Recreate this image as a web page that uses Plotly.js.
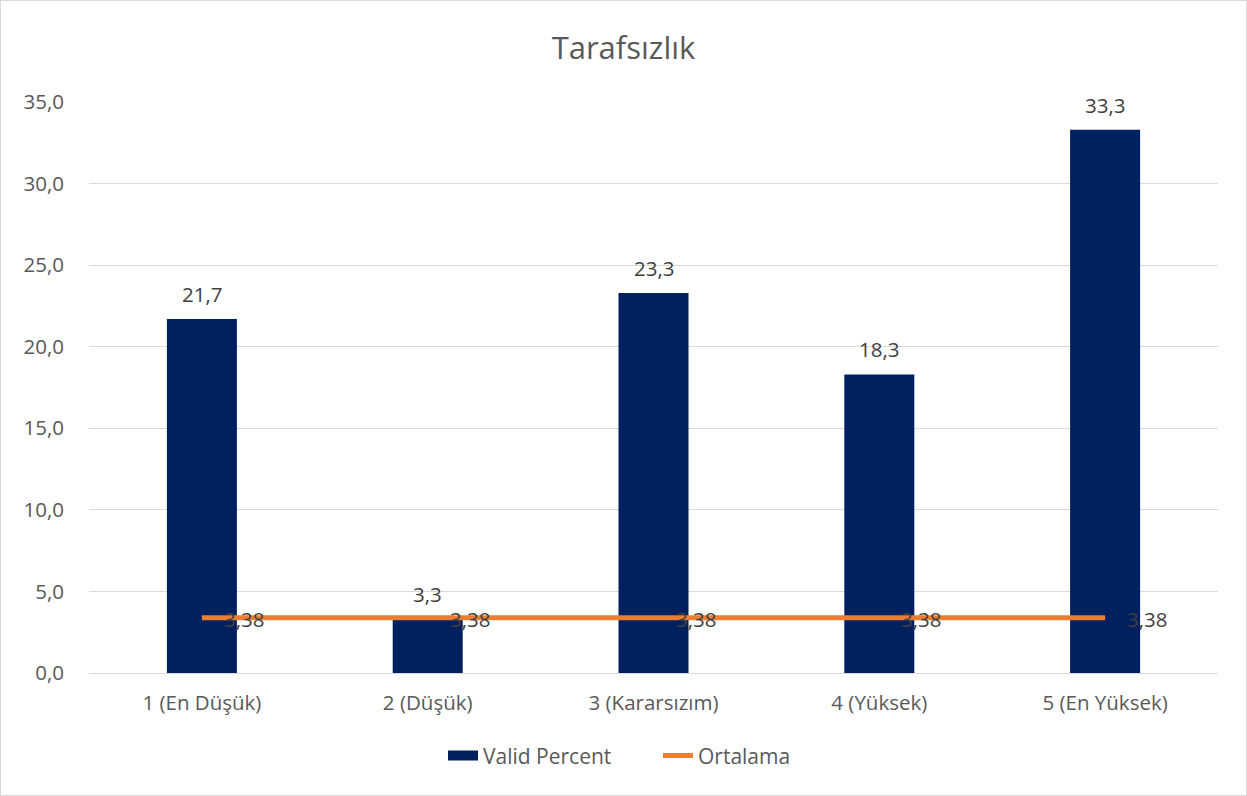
<!DOCTYPE html>
<html><head><meta charset="utf-8">
<script src="https://cdn.plot.ly/plotly-3.0.1.min.js"></script>
<style>html,body{margin:0;padding:0;background:#fff}#c{position:absolute;left:0;top:0;width:1245px;height:794px;border:1px solid #d9d9d9}</style>
</head><body><div id="c"></div>
<script>
const categories = ["1 (En Düşük)", "2 (Düşük)", "3 (Kararsızım)", "4 (Yüksek)", "5 (En Yüksek)"];
const validPercent = [21.7, 3.3, 23.3, 18.3, 33.3];
const ortalama = [3.38, 3.38, 3.38, 3.38, 3.38];
const yTicks = [0, 5, 10, 15, 20, 25, 30, 35];

const font = "'Open Sans', 'Noto Sans', sans-serif";
const fs = 20.5;
const fmt = (v, d) => v.toFixed(d).replace(".", ",");
const data = [
  {type:"bar", name:"Valid Percent", x:categories, y:validPercent,
   marker:{color:"#002060"}, width:0.31, showlegend:false, legendgroup:"vp"},
  {type:"scatter", mode:"lines", name:"Valid Percent", x:[null], y:[null],
   line:{color:"#002060", width:10}, legendgroup:"vp", hoverinfo:"skip"},
  {type:"scatter", mode:"lines", name:"Ortalama", x:categories, y:ortalama,
   line:{color:"#ED7D31", width:5}}
];
const annotations = [];
categories.forEach((c, i) => {
  annotations.push({x:c, y:validPercent[i], xref:"x", yref:"y", text:fmt(validPercent[i],1),
    showarrow:false, yanchor:"middle", xanchor:"center", yshift:25,
    font:{size:fs, color:"#404040", family:font}});
  annotations.push({x:c, y:ortalama[i], xref:"x", yref:"y", text:fmt(ortalama[i],2),
    showarrow:false, yanchor:"middle", xanchor:"left", xshift:20, yshift:-1,
    font:{size:fs, color:"#404040", family:font}});
});
const layout = {
  width:1245, height:794, separators:",.",
  paper_bgcolor:"#fff", plot_bgcolor:"#fff",
  margin:{l:88, r:28, t:101, b:122},
  font:{family:font, color:"#595959", size:fs},
  title:{text:"Tarafsızlık", font:{size:31,color:"#595959",family:font}, x:0.5, xanchor:"center", y:0.94, yanchor:"middle"},
  xaxis:{type:"category", showgrid:false, showline:true, linecolor:"#d9d9d9", linewidth:1, ticks:"", ticklabelstandoff:11, tickfont:{size:fs,color:"#595959"}},
  yaxis:{range:[0,35], tickvals:yTicks, tickformat:".1f", showgrid:true, gridcolor:"#d9d9d9", gridwidth:1, zeroline:false, showline:false, ticks:"", ticklabelstandoff:24, tickfont:{size:fs,color:"#595959"}},
  bargap:0.69,
  annotations:annotations,
  showlegend:true,
  legend:{orientation:"h", x:(442-88)/1129, xanchor:"left", y:-0.145, yanchor:"middle", font:{size:21,color:"#595959"}, traceorder:"normal", itemwidth:30, entrywidth:170, entrywidthmode:"pixels"}
};
Plotly.newPlot("c", data, layout, {displayModeBar:false, staticPlot:true});
</script></body></html>
